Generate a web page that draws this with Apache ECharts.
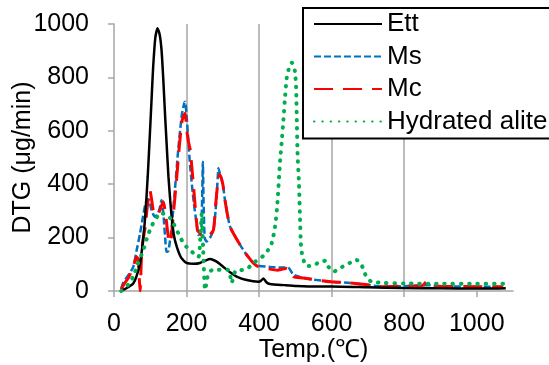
<!DOCTYPE html>
<html>
<head>
<meta charset="utf-8">
<script src="https://cdn.jsdelivr.net/npm/echarts@6/dist/echarts.min.js"></script>
<style>html,body{margin:0;padding:0;background:#fff;}#c{width:549px;height:365px;}</style>
</head>
<body>
<div id="c"></div>
<script>
const xTicks = [0, 200, 400, 600, 800, 1000];
const yTicks = [0, 200, 400, 600, 800, 1000];
const seriesNames = ['Ett', 'Ms', 'Mc', 'Hydrated alite'];

const ettT = [20,25,40,53,62,72,80,86,93,99,104,108,114,120,126,131,136,141,145,150,155,159,165,173,185,200,220,237,252,265,283,300,320,338,366,398,405,412,420,430,470,504,560,600,700,800,900,1000,1050,1080];
const ettV = [0,4,15,28,55,105,190,278,430,590,730,840,950,984,960,903,790,653,554,430,340,278,210,166,125,105,102,105,114,120,110,92,70,54,41,35,38,47,33,26,22,19,17,17,14,11,10,9,9,10];

const msT = [20,25,40,53,62,72,80,86,92,97,104,113,121,126,131,136,141,145,150,159,168,177,187,193,196,200,205,210,220,228,233,240,243,245,247,250,255,265,274,280,285,288,292,300,306,320,348,366,384,398,430,458,480,494,522,559,596,651,706,743,800,862,900,1000,1073];
const msV = [10,30,60,90,150,217,280,322,345,340,300,278,290,310,340,290,200,147,150,240,380,528,660,700,709,660,560,466,330,250,210,220,350,484,330,200,185,200,228,300,400,460,440,400,340,241,172,135,105,95,90,88,88,62,49,41,35,30,22,16,18,22,18,16,16];

const mcT = [20,25,40,53,62,66,70,72,76,80,86,93,99,104,110,118,126,131,136,142,148,153,158,163,172,180,188,196,200,205,210,220,230,237,246,260,274,280,288,292,300,306,320,348,366,384,398,430,450,465,475,485,494,522,559,596,651,706,743,800,850,862,875,900,1000,1073];
const mcV = [5,20,50,90,128,120,40,0,140,190,240,330,378,340,290,285,300,320,334,290,220,180,200,278,410,540,640,666,610,560,530,380,228,216,203,205,228,320,428,435,400,340,241,172,135,105,91,82,78,82,84,76,54,49,41,35,30,22,16,18,20,35,20,18,16,16];

const haT = [20,25,40,53,65,81,90,99,110,120,127,135,145,155,165,173,183,191,200,210,220,233,238,242,246,251,255,260,270,283,300,315,320,324,334,350,366,384,398,411,425,435,444,450,458,462,467,472,476,481,486,490,495,499,502,504,506,510,513,515,518,525,531,549,563,582,591,605,623,651,669,680,688,697,710,743,800,900,1000,1080];
const haV = [0,4,25,54,100,153,195,228,260,280,292,290,285,273,250,228,200,180,165,154,140,128,200,292,150,4,30,67,78,79,80,79,60,30,72,78,82,105,118,131,154,180,241,320,490,553,640,734,797,828,850,855,848,821,765,640,516,400,266,180,142,105,94,94,106,113,91,72,86,106,116,105,79,49,35,30,28,27,27,27];

function pairs(t, v) { return t.map((x, i) => [x, v[i]]); }

const font = 'Liberation Sans, Arial, sans-serif';
const chart = echarts.init(document.getElementById('c'), null, {renderer: 'canvas'});
chart.setOption({
  animation: false,
  backgroundColor: '#fff',
  textStyle: {fontFamily: font},
  grid: {left: 114, right: 36, top: 24, bottom: 74, containLabel: false, outerBoundsMode: 'none'},
  legend: {
    orient: 'vertical', left: 303, top: 8,
    data: seriesNames,
    itemWidth: 68, itemHeight: 14, itemGap: 6.5,
    padding: [3, 60, 4, 10],
    borderColor: '#000', borderWidth: 2, backgroundColor: '#fff',
    itemStyle: {opacity: 0},
    textStyle: {fontSize: 26, color: '#000', fontFamily: font, lineHeight: 25}
  },
  xAxis: {
    type: 'value', min: 0, max: 1100, interval: 200,
    name: 'Temp.(℃)', nameLocation: 'middle', nameGap: 47, nameMoveOverlap: false,
    nameTextStyle: {fontSize: 25, color: '#000', fontFamily: font},
    axisLine: {show: true, lineStyle: {color: '#a6a6a6', width: 1.5}},
    axisTick: {show: true, length: 6, lineStyle: {color: '#a6a6a6', width: 1.5}, customValues: xTicks},
    axisLabel: {fontSize: 25, color: '#000', margin: 21, fontFamily: font, customValues: xTicks,
      formatter: v => String(v)},
    splitLine: {show: true, showMinLine: false, showMaxLine: false, lineStyle: {color: '#a6a6a6', width: 1.5}}
  },
  yAxis: {
    type: 'value', min: 0, max: 1000, interval: 200,
    name: 'DTG (μg/min)', nameLocation: 'middle', nameGap: 78, nameMoveOverlap: false,
    nameTextStyle: {fontSize: 25, color: '#000', fontFamily: font},
    axisLine: {show: true, lineStyle: {color: '#a6a6a6', width: 1.5}},
    axisTick: {show: true, length: 6, lineStyle: {color: '#a6a6a6', width: 1.5}, customValues: yTicks},
    axisLabel: {fontSize: 25, color: '#000', margin: 25, fontFamily: font, customValues: yTicks,
      formatter: v => String(v)},
    splitLine: {show: false}
  },
  series: [
    {name: seriesNames[0], type: 'line', symbol: 'none', smooth: 0.2, z: 4,
     data: pairs(ettT, ettV), lineStyle: {color: '#000000', width: 2.5}, itemStyle: {color: '#000000'}},
    {name: seriesNames[1], type: 'line', symbol: 'none', smooth: 0.2, z: 2,
     data: pairs(msT, msV), lineStyle: {color: '#0070c0', width: 2.5, type: [7, 3]}, itemStyle: {color: '#0070c0'}},
    {name: seriesNames[2], type: 'line', symbol: 'none', smooth: 0.2, z: 3,
     data: pairs(mcT, mcV), lineStyle: {color: '#ff0000', width: 3, type: [19, 10]}, itemStyle: {color: '#ff0000'}},
    {name: seriesNames[3], type: 'line', symbol: 'none', smooth: 0.2, z: 5,
     data: pairs(haT, haV), lineStyle: {color: '#00b050', width: 4, type: [0.5, 7.8], cap: 'round'}, itemStyle: {color: '#00b050'}}
  ]
});
</script>
</body>
</html>
